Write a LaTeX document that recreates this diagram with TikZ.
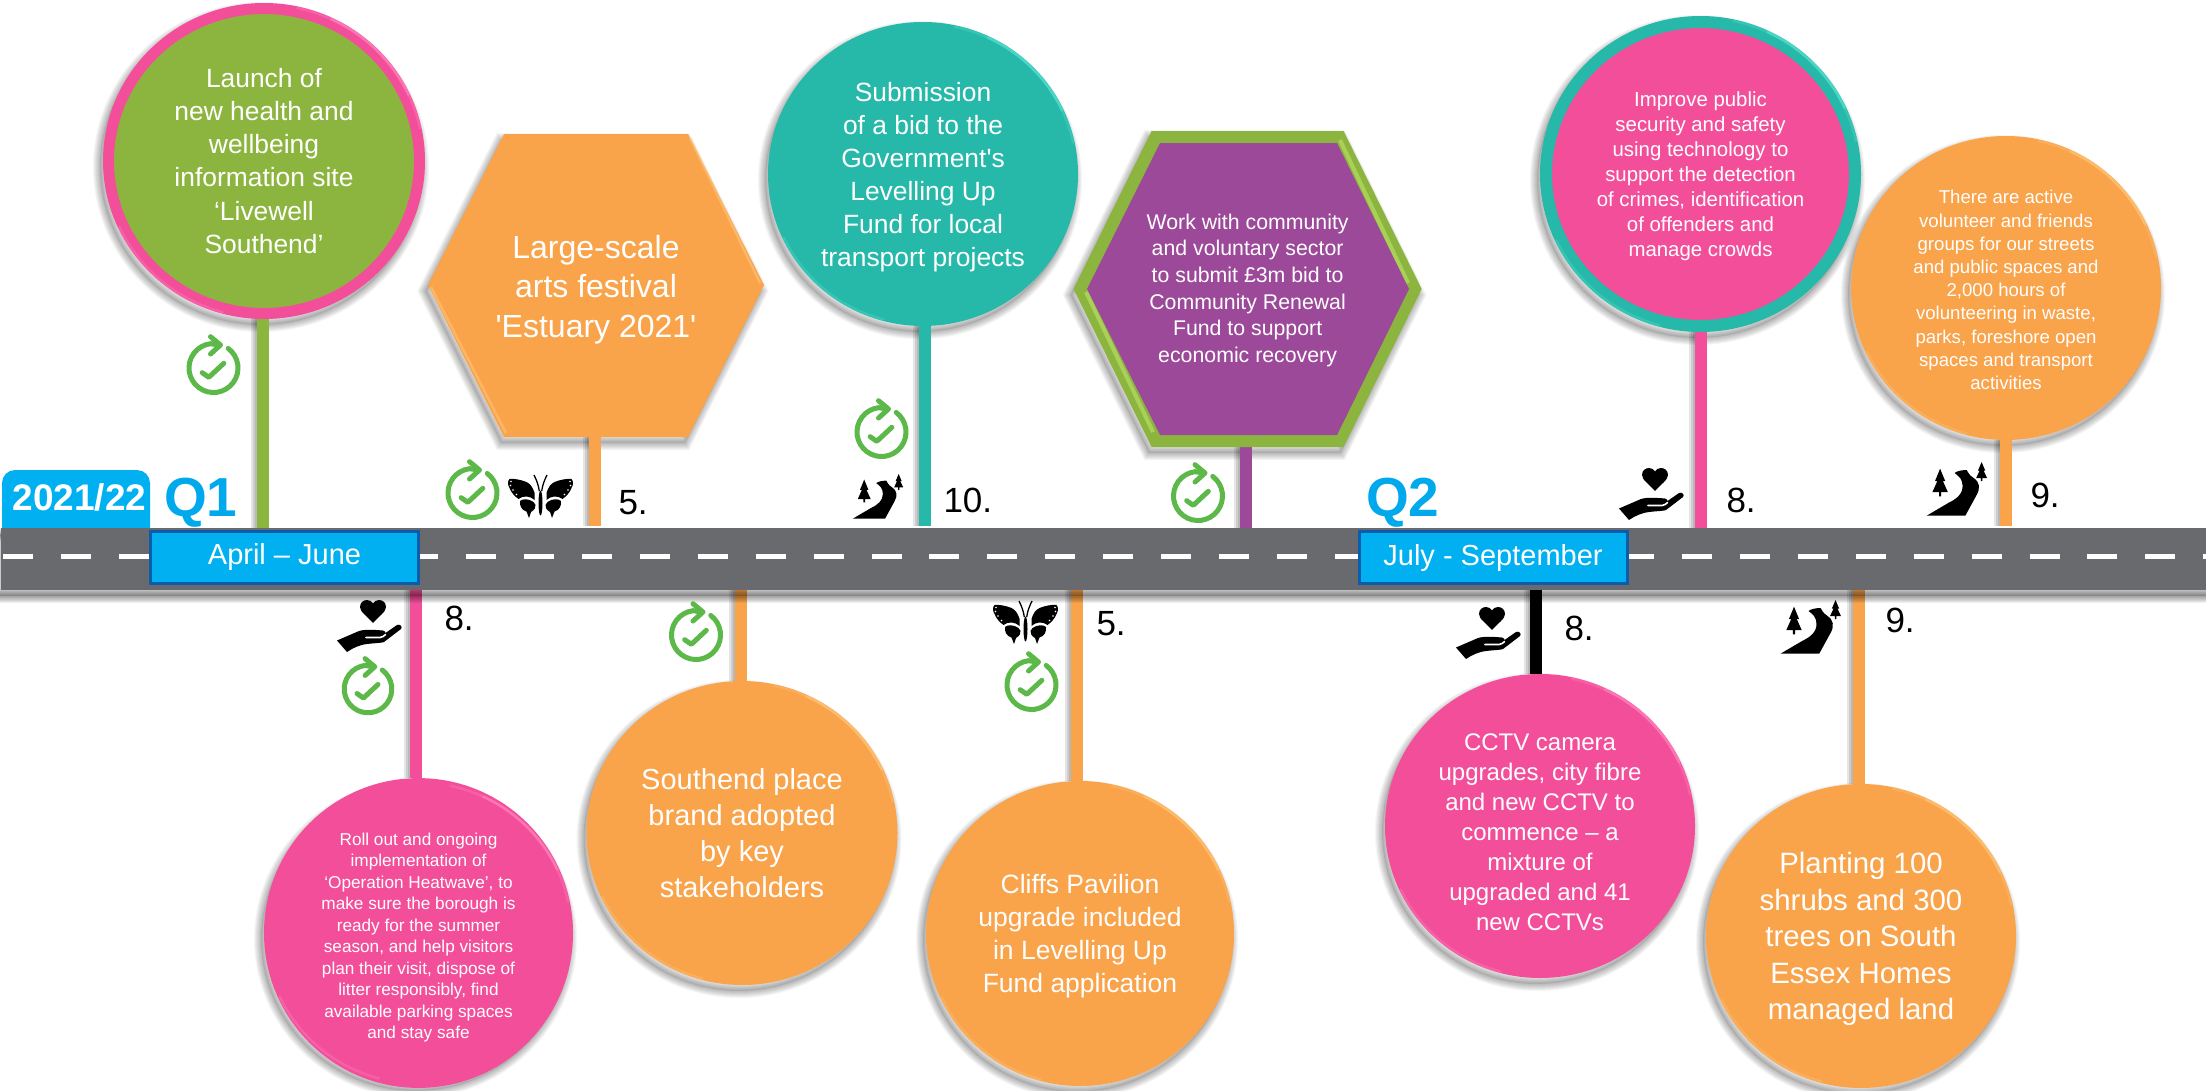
\documentclass[tikz,border=0pt]{standalone}
\usepackage{fontspec}
\setmainfont{Liberation Sans}[Ligatures=TeXOff]
\usetikzlibrary{shapes.geometric,calc}
\definecolor{gpink}{HTML}{F34E9A}
\definecolor{lpink}{HTML}{FF82BE}
\definecolor{gorange}{HTML}{F9A34B}
\definecolor{lorange}{HTML}{FFC476}
\definecolor{gteal}{HTML}{26B8A8}
\definecolor{lteal}{HTML}{55E0D0}
\definecolor{ggreen}{HTML}{8CB53F}
\definecolor{lgreen}{HTML}{A9D158}
\definecolor{gpurple}{HTML}{9B4998}
\definecolor{gblue}{HTML}{00B0F0}
\definecolor{qblue}{HTML}{00A8EC}
\definecolor{dblue}{HTML}{0B5CAB}
\definecolor{groad}{HTML}{696A6E}
\definecolor{cgreen}{HTML}{5CB848}
\pgfdeclarelayer{shade}
\pgfdeclarelayer{stems}
\pgfsetlayers{shade,stems,main}
\newcommand{\fsz}[2]{\fontsize{#1}{#2}\selectfont}
\newcommand{\softshadow}[1]{\foreach \w in {2,4,6,8,10,12,14}{\draw[black,opacity=.038,line width=\w pt,fill=black,fill opacity=.012,shift={(-3,6)}] #1;}}
\newcommand{\roadshadow}[1]{\foreach \w in {1,3,5,7,9,11,13}{\draw[black,opacity=.06,line width=\w pt,fill=black,fill opacity=.03,shift={(0,6)}] #1;}}
\newcommand{\ellshadow}[4]{\begin{pgfonlayer}{shade}\softshadow{(#1,#2) ellipse [x radius=#3pt,y radius=#4pt]}\end{pgfonlayer}}
\newcommand{\bevel}[5]{\begin{scope}[shift={(#1,#2)},x=1pt,y=1pt]
 \draw[#5,line width=2.5pt,line cap=round,opacity=.35] (12:#3pt and #4pt) arc[start angle=12,end angle=78,x radius=#3pt,y radius=#4pt];
 \draw[#5,line width=2.5pt,line cap=round,opacity=.65] (25:#3pt and #4pt) arc[start angle=25,end angle=65,x radius=#3pt,y radius=#4pt];
 \draw[#5,line width=2.5pt,line cap=round,opacity=.35] (205:#3pt and #4pt) arc[start angle=205,end angle=255,x radius=#3pt,y radius=#4pt];
\end{scope}}
\newcommand{\checkicon}[3]{\begin{scope}[shift={(#1,#2)},x=1pt,y=1pt,scale=#3]
 \draw[cgreen,line width=5pt,line cap=round] (53:24.5pt) arc[start angle=53,delta angle=-316,radius=24.5pt] -- (6,23);
 \draw[cgreen,line width=5pt,line cap=round,line join=round] (-3,31.3)--(7,23)--(-3,14);
 \draw[cgreen,line width=5pt,line cap=round,line join=round] (-11.3,-4.7)--(-4.7,-9.3)--(10.3,4.7);
\end{scope}}
\newcommand{\handicon}[2]{\begin{scope}[shift={(#1,#2)}]
 \fill[black] (36,23) .. controls (30,16) and (23,12) .. (23,7) .. controls (23,2) and (27,0) .. (30,0) .. controls (33,0) and (35,1.5) .. (36,3.5) .. controls (37,1.5) and (39,0) .. (42,0) .. controls (45,0) and (49,2) .. (49,7) .. controls (49,12) and (42,16) .. (36,23) -- cycle;
 \fill[black] (0,40.5) -- (22,31) .. controls (28,29) and (40,30) .. (46,30.5) .. controls (48,31) and (48.5,32) .. (48.5,33) -- (60,25) .. controls (63,23.5) and (66,27) .. (64,29) -- (47,42) .. controls (45,43) and (38,43) .. (30,44) .. controls (22,45) and (16,48) .. (10,52) -- cycle;
 \draw[white,line width=1.6pt,line cap=round] (29,37.5) -- (43,37.5) .. controls (46,37) and (47,36) .. (48.5,34.5);
\end{scope}}
\newcommand{\treeshape}[4]{\fill[black] (#1,#2) -- (#1+0.33*#4,#2+0.45*#3) -- (#1+0.18*#4,#2+0.45*#3) -- (#1+0.5*#4,#2+0.85*#3) -- (#1+0.07*#4,#2+0.85*#3) -- (#1+0.07*#4,#2+#3) -- (#1-0.07*#4,#2+#3) -- (#1-0.07*#4,#2+0.85*#3) -- (#1-0.5*#4,#2+0.85*#3) -- (#1-0.18*#4,#2+0.45*#3) -- (#1-0.33*#4,#2+0.45*#3) -- cycle;}
\newcommand{\rivericon}[3]{\begin{scope}[shift={(#1,#2)},scale=#3]
 \treeshape{13.5}{6.7}{27.6}{15.5}
 \treeshape{55}{0}{19}{11}
 \fill[black] (0,53.7) -- (38.7,53.7) -- (50,33) .. controls (54,26) and (53,20) .. (47,16) .. controls (42,13) and (41,9) .. (40,8) .. controls (36,8) and (30,9) .. (28,11) .. controls (32,14) and (36,17) .. (36,24) .. controls (36,32) and (30,37) .. (21.6,41) -- cycle;
\end{scope}}
\newcommand{\halfwing}{
 \fill[black] (6,17.7) .. controls (8,12) and (10,9) .. (14,7) .. controls (20,4.5) and (27,3.5) .. (31,4) .. controls (33,6) and (33,10) .. (31,13) .. controls (29,18) and (26,21) .. (22,24) .. controls (17,20) and (10,21) .. (6,25) -- cycle;
 \fill[black] (7,27) .. controls (12,23.5) and (18,23.5) .. (20.5,26) .. controls (21,31) and (19,35) .. (14,36.5) -- (11.5,43) -- (9.5,37) .. controls (6,35) and (4.5,32) .. (5,30) -- cycle;
 \draw[black,line width=1.3pt] (1.2,16) .. controls (2,10) and (4,5) .. (6.5,0);
 \fill[white] (29.5,6.5) circle (0.9pt) (30,10.5) circle (0.9pt) (27.5,15) circle (0.9pt) (24,19.5) circle (0.8pt);
}
\newcommand{\butterflyicon}[2]{\begin{scope}[shift={(#1,#2)}]
 \halfwing
 \begin{scope}[xscale=-1]\halfwing\end{scope}
 \fill[black] (0,28) ellipse [x radius=2pt,y radius=12.5pt];
\end{scope}}
\newcommand{\stemup}[4]{\coordinate (sa) at ([xshift=#2pt]#1.south); \begin{pgfonlayer}{stems}\draw[stemline=#3,#4] (sa) -- (sa |- road.north);\end{pgfonlayer}}
\newcommand{\stemdown}[3]{\coordinate (sa) at ([xshift=#2pt]#1.north); \begin{pgfonlayer}{stems}\draw[stemline=#3] (sa |- road.south) -- (sa);\end{pgfonlayer}}
\tikzset{
 bubble/.style={ellipse,inner sep=0pt,outer sep=0pt,text=white,align=center},
 hexlabel/.style={rectangle,inner sep=0pt,outer sep=0pt,text=white,align=center},
 period/.style={rectangle,draw=dblue,line width=3pt,fill=gblue,text=white,inner sep=0pt,outer sep=0pt,font=\fsz{29}{34}},
 numlabel/.style={anchor=base west,inner sep=0pt,outer sep=0pt,text=black,font=\fsz{35}{40}},
 qlabel/.style={anchor=base west,inner sep=0pt,outer sep=0pt,text=qblue,font=\fsz{55}{60}\bfseries},
 stemline/.style={line width=12pt,draw=#1,line cap=butt,
  preaction={draw=black,opacity=.1,line width=12pt,transform canvas={xshift=-2pt}},
  preaction={draw=black,opacity=.1,line width=12pt,transform canvas={xshift=-4pt}},
  preaction={draw=black,opacity=.1,line width=12pt,transform canvas={xshift=-6pt}}},
}
\begin{document}
\begin{tikzpicture}[x=1pt,y=-1pt]
\useasboundingbox (0,0) rectangle (2206,1090);
\begin{pgfonlayer}{shade}\fill[white] (0,0) rectangle (2206,1090);\end{pgfonlayer}
% year tab
\fill[gblue,rounded corners=13pt] (2,550) -- (2,470) -- (150,470) -- (150,550) -- cycle;
\node[anchor=base,inner sep=0pt,text=white,font=\fsz{37}{42}\bfseries] (year) at (79.5,510) {2021/22};
\node[qlabel] (q1) at (164,516) {Q1};
\node[qlabel] (q2) at (1366,516) {Q2};
% road
\roadshadow{(-20,528) rectangle (2226,590)}
\node[rectangle,fill=groad,inner sep=0pt,outer sep=0pt,minimum width=2205pt,minimum height=62pt] (road) at (1103.5,559) {};
\coordinate (dashL) at (3,556.7);
\coordinate (dashR) at (2206,556.7);
\draw[white,line width=4.5pt,dash pattern=on 30pt off 27.9pt] (dashL) -- (dashR);
\node[period,minimum width=268pt,minimum height=52pt] (apr) at (284.5,557) {April – June};
\node[period,minimum width=268pt,minimum height=52pt] (jul) at (1493,557.5) {July - September};
% top shapes
\ellshadow{264}{161}{161}{158}
\node[bubble,fill=ggreen,draw=gpink,line width=11pt,minimum width=311pt,minimum height=305pt,font=\fsz{26.4}{33.1}] (c1) at (264,161) {Launch of\\new health and\\wellbeing\\information site\\‘Livewell\\Southend’};
\bevel{264}{161}{159.5}{156.5}{lpink}
\stemup{c1}{-1}{ggreen}{}
\begin{pgfonlayer}{shade}\softshadow{(428,285) -- (504,134) -- (688,134) -- (764,285) -- (688,437) -- (504,437) -- cycle}\end{pgfonlayer}
\fill[gorange] (428,285) -- (504,134) -- (688,134) -- (764,285) -- (688,437) -- (504,437) -- cycle;
\draw[lorange,line width=2.5pt,opacity=.6] (690,138) -- (760,283);
\draw[lorange,line width=2.5pt,opacity=.6] (431,287) -- (506,433);
\node[hexlabel,minimum width=336pt,minimum height=303pt,font=\fsz{32}{39.5}] (h1) at (596,285.5) {\rule{0pt}{31.4pt}Large-scale\\arts festival\\'Estuary 2021'};
\stemup{h1}{-1.5}{gorange}{shorten >=2pt}
\ellshadow{923}{174}{155}{152}
\node[bubble,fill=gteal,minimum width=310pt,minimum height=304pt,font=\fsz{26.4}{33.1}] (c2) at (923,174) {\rule{0pt}{25pt}Submission\\of a bid to the\\Government's\\Levelling Up\\Fund for local\\transport projects};
\bevel{923}{174}{153.5}{150.5}{lteal}
\stemup{c2}{2}{gteal}{shorten >=2pt}
\begin{pgfonlayer}{shade}\softshadow{(1073.5,289) -- (1151.6,131) -- (1343.6,131) -- (1421.7,289) -- (1343.6,447) -- (1151.6,447) -- cycle}\end{pgfonlayer}
\fill[ggreen] (1073.5,289) -- (1151.6,131) -- (1343.6,131) -- (1421.7,289) -- (1343.6,447) -- (1151.6,447) -- cycle;
\draw[lgreen,line width=4pt] (1340,140) -- (1408,283);
\draw[lgreen,line width=4pt] (1086,292) -- (1153,432);
\fill[gpurple] (1087,289) -- (1160,143) -- (1337,143) -- (1409,289) -- (1337,435) -- (1160,435) -- cycle;
\node[hexlabel,minimum width=348pt,minimum height=316pt,font=\fsz{21.3}{26.6}] (h2) at (1247.6,289) {\rule{0pt}{18pt}Work with community\\and voluntary sector\\to submit £3m bid to\\Community Renewal\\Fund to support\\economic recovery};
\stemup{h2}{-1.6}{gpurple}{}
\ellshadow{1700.5}{174}{160.5}{158}
\node[bubble,fill=gpink,draw=gteal,line width=12pt,minimum width=309pt,minimum height=304pt,font=\fsz{20.4}{25}] (c3) at (1700.5,174) {\rule{0pt}{19pt}Improve public\\security and safety\\using technology to\\support the detection\\of crimes, identification\\of offenders and\\manage crowds};
\bevel{1700.5}{174}{159}{156.5}{lteal}
\stemup{c3}{0}{gpink}{}
\ellshadow{2006}{288}{155}{152}
\node[bubble,fill=gorange,minimum width=310pt,minimum height=304pt,font=\fsz{18.6}{23.2}] (c4) at (2006,288) {\rule{0pt}{17.6pt}There are active\\volunteer and friends\\groups for our streets\\and public spaces and\\2,000 hours of\\volunteering in waste,\\parks, foreshore open\\spaces and transport\\activities};
\bevel{2006}{288}{153.5}{150.5}{lorange}
\stemup{c4}{0}{gorange}{shorten >=2pt}
% bottom shapes
\ellshadow{418.5}{933}{154.5}{152}
\node[bubble,fill=gpink,minimum width=309pt,minimum height=304pt,font=\fsz{17.2}{21.5}] (b1) at (418.5,933) {\rule{0pt}{22pt}Roll out and ongoing\\implementation of\\‘Operation Heatwave’, to\\make sure the borough is\\ready for the summer\\season, and help visitors\\plan their visit, dispose of\\litter responsibly, find\\available parking spaces\\and stay safe};
\bevel{418.5}{933}{153}{150.5}{lpink}
\stemdown{b1}{-2.5}{gpink}
\ellshadow{742}{833}{155.5}{152}
\node[bubble,fill=gorange,minimum width=311pt,minimum height=304pt,font=\fsz{29}{36}] (b2) at (742,833) {Southend place\\brand adopted\\by key\\stakeholders};
\bevel{742}{833}{154}{150.5}{lorange}
\stemdown{b2}{-1}{gorange}
\ellshadow{1080}{933.5}{154}{152.5}
\node[bubble,fill=gorange,minimum width=308pt,minimum height=305pt,font=\fsz{26.5}{33}] (b3) at (1080,933.5) {\rule{0pt}{23.5pt}Cliffs Pavilion\\upgrade included\\in Levelling Up\\Fund application};
\bevel{1080}{933.5}{152.5}{151}{lorange}
\stemdown{b3}{-3.5}{gorange}
\ellshadow{1540}{826}{155}{152}
\node[bubble,fill=gpink,minimum width=310pt,minimum height=304pt,font=\fsz{24}{30}] (b4) at (1540,826) {\rule{0pt}{29pt}CCTV camera\\upgrades, city fibre\\and new CCTV to\\commence – a\\mixture of\\upgraded and 41\\new CCTVs};
\bevel{1540}{826}{153.5}{150.5}{lpink}
\stemdown{b4}{-4}{black}
\ellshadow{1861}{936}{155}{152}
\node[bubble,fill=gorange,minimum width=310pt,minimum height=304pt,font=\fsz{29.4}{36.5}] (b5) at (1861,936) {\rule{0pt}{27.5pt}Planting 100\\shrubs and 300\\trees on South\\Essex Homes\\managed land};
\bevel{1861}{936}{153.5}{150.5}{lorange}
\stemdown{b5}{-2.5}{gorange}
% number labels
\node[numlabel] (n1) at (618.5,514) {5.};
\node[numlabel] (n2) at (943.5,512) {10.};
\node[numlabel] (n3) at (1726.5,512) {8.};
\node[numlabel] (n4) at (2030.5,507) {9.};
\node[numlabel] (n5) at (444.5,630) {8.};
\node[numlabel] (n6) at (1096.5,635) {5.};
\node[numlabel] (n7) at (1564.5,640) {8.};
\node[numlabel] (n8) at (1885.5,632) {9.};
% icons
\checkicon{213.5}{368}{1}
\checkicon{472.5}{493}{1}
\checkicon{696}{635}{1}
\checkicon{881.5}{432}{1}
\checkicon{1198}{496}{1}
\checkicon{1031.5}{685}{1}
\checkicon{368}{689}{.97}
\handicon{337}{600}
\handicon{1619}{468}
\handicon{1456}{607}
\rivericon{1926.6}{462}{1}
\rivericon{1780.5}{600}{1}
\rivericon{853}{474}{.83}
\butterflyicon{540.5}{475}
\butterflyicon{1025.5}{601}
\end{tikzpicture}
\end{document}
